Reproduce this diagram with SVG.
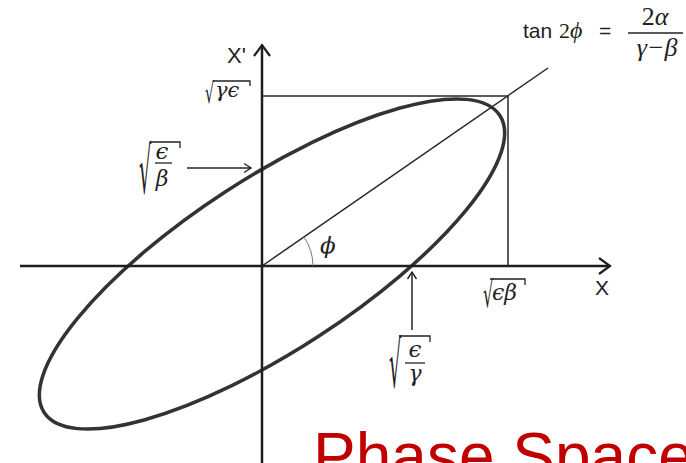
<svg xmlns="http://www.w3.org/2000/svg" width="686" height="463" viewBox="0 0 686 463">
<style>
.axis{stroke:#1e1e1e;stroke-width:2.5;fill:none}
.thin{stroke:#262626;stroke-width:1.5;fill:none}
.ell{stroke:#333;stroke-width:3.5;fill:none}
.arc{stroke:#777;stroke-width:1;fill:none}
.sans{font-family:"Liberation Sans",Arial,sans-serif;fill:#222}
.math{font-family:"Liberation Serif","DejaVu Serif",serif;font-style:italic;fill:#222}
.gk{font-family:"DejaVu Serif",serif;font-style:italic;fill:#222}
.num{font-family:"Liberation Serif","DejaVu Serif",serif;font-style:normal;fill:#222}
.rad{font-family:"DejaVu Sans",sans-serif;fill:#222}
.bar{stroke:#222;stroke-width:1.3;fill:none}
.title{font-family:"Liberation Sans",Arial,sans-serif;fill:#c00000}
</style>
<defs>
<marker id="big" markerUnits="userSpaceOnUse" markerWidth="16" markerHeight="22" viewBox="-2 -2 16 22" refX="11" refY="8" orient="auto"><path d="M0,0 L11,8 L0,16" fill="none" stroke="#1e1e1e" stroke-width="2.2"/></marker>
<marker id="small" markerUnits="userSpaceOnUse" markerWidth="12" markerHeight="14" viewBox="-2 -2 12 14" refX="7" refY="4.5" orient="auto"><path d="M0,0 L7,4.5 L0,9" fill="none" stroke="#222" stroke-width="1.4"/></marker>
</defs>
<rect width="686" height="463" fill="#fff"/>

<g id="ellipse">
<ellipse class="ell" cx="0" cy="0" rx="272" ry="86" transform="translate(272,264) rotate(-33.1)"/>
</g>

<g id="connectors">
<line id="axis-x" class="axis" x1="20" y1="266" x2="610" y2="266" marker-end="url(#big)"/>
<line id="axis-y" class="axis" x1="262" y1="463" x2="262" y2="45" marker-end="url(#big)"/>
<line id="top-tangent" class="thin" x1="262" y1="96" x2="508" y2="96"/>
<line id="right-tangent" class="thin" x1="508" y1="96" x2="508" y2="266"/>
<line id="major-axis" class="thin" x1="262" y1="266" x2="548" y2="68"/>
<path id="angle-arc" class="arc" d="M313,266 A51,51 0 0 0 303.9,237"/>
<line id="arrow-eps-beta" class="thin" x1="187" y1="168" x2="251" y2="168" marker-end="url(#small)"/>
<line id="arrow-eps-gamma" class="thin" x1="412" y1="330" x2="412" y2="272" marker-end="url(#small)"/>
</g>

<g id="label-xprime"><text class="sans" x="227" y="63" font-size="22">X'</text></g>
<g id="label-x"><text class="sans" x="595" y="295" font-size="21">X</text></g>
<g id="label-phi"><text class="gk" x="320" y="253" font-size="23">ϕ</text></g>

<g id="label-sqrt-gamma-eps">
<text class="rad" font-size="26" transform="translate(205,103) scale(0.55,1.08)">√</text>
<polyline class="bar" points="213,81 250,81 250,86"/>
<text class="gk" x="215" y="97" font-size="21">γϵ</text>
</g>

<g id="label-sqrt-eps-over-beta">
<text class="rad" font-size="58" transform="translate(139,193) scale(0.33,1.11)">√</text>
<polyline class="bar" points="151,142 180,142 180,148"/>
<text class="gk" x="162" y="159" font-size="23" text-anchor="middle">ϵ</text>
<line class="bar" x1="155" y1="163" x2="172" y2="163"/>
<text class="gk" x="162" y="186" font-size="22" text-anchor="middle">β</text>
</g>

<g id="label-sqrt-eps-over-gamma">
<text class="rad" font-size="58" transform="translate(389,387) scale(0.33,1.11)">√</text>
<polyline class="bar" points="399,336 430,336 430,342"/>
<text class="gk" x="415" y="357" font-size="23" text-anchor="middle">ϵ</text>
<line class="bar" x1="405" y1="363" x2="425" y2="363"/>
<text class="gk" x="415" y="381" font-size="22" text-anchor="middle">γ</text>
</g>

<g id="label-sqrt-eps-beta">
<text class="rad" font-size="32" transform="translate(483,307) scale(0.5,1.1)">√</text>
<polyline class="bar" points="490,279 525,279 525,285"/>
<text class="gk" x="492" y="300" font-size="22">ϵβ</text>
</g>

<g id="formula">
<text class="sans" x="523" y="38" font-size="21">tan</text>
<text class="num" x="559" y="38" font-size="22">2</text>
<text class="math" x="570" y="38" font-size="24">ϕ</text>
<text class="sans" x="599" y="38" font-size="21">=</text>
<text x="655" y="25" font-size="26" text-anchor="middle"><tspan class="num">2</tspan><tspan class="math">α</tspan></text>
<line class="bar" x1="628" y1="33" x2="683" y2="33"/>
<text class="math" x="657" y="56" font-size="26" text-anchor="middle">γ−β</text>
</g>

<g id="title"><text class="title" x="313" y="478" font-size="64">Phase Space</text></g>
</svg>
